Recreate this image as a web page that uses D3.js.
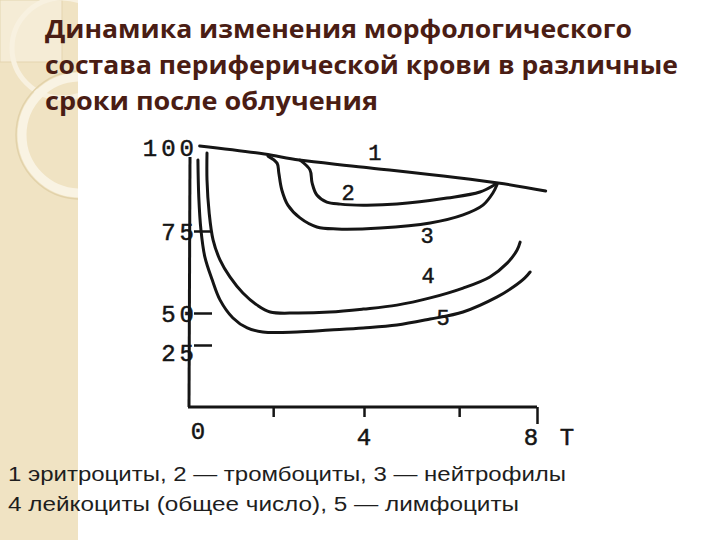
<!DOCTYPE html>
<html>
<head>
<meta charset="utf-8">
<script src="https://d3js.org/d3.v7.min.js"></script>
<style>
    body { margin: 0; padding: 0; background: #fff; }
    svg { display: block; }
</style>
</head>
<body>
<svg id="chart" width="720" height="540"></svg>
<script>
// ---- data (time T, percent of initial level) ----
const erythrocytes = [[0.2,100.3],[1.7,97.9],[2.5,96.1],[4.0,94.0],[7.1,89.3],[8.2,86.9]];
const thrombocytes = [[2.52,96.1],[2.75,93.2],[2.8,89.3],[2.91,85.7],[3.14,83.6],[3.45,83.0],[3.98,82.7],[4.76,83.0],[5.92,84.8],[6.68,86.6],[7.05,89.0]];
const neutrophils = [[1.78,97.3],[1.99,95.2],[2.03,92.3],[2.1,87.2],[2.24,82.7],[2.52,78.9],[2.91,76.2],[3.38,75.6],[4.37,75.9],[5.53,77.4],[6.29,79.8],[6.75,82.7],[6.98,86.3],[7.08,88.9]];
const leukocytes = [[0.37,98.2],[0.37,90.2],[0.42,80.4],[0.51,72.3],[0.67,66.2],[0.9,61.0],[1.2,56.1],[1.53,52.4],[1.83,50.3],[2.45,50.0],[3.21,50.3],[3.98,51.2],[4.76,52.4],[5.53,54.6],[6.29,57.6],[6.91,61.0],[7.31,65.2],[7.54,69.2],[7.61,71.6]];
const lymphocytes = [[0.16,96.1],[0.18,85.1],[0.23,75.3],[0.32,67.1],[0.49,60.1],[0.67,54.0],[0.97,46.1],[1.3,38.3],[1.66,35.2],[2.45,35.2],[3.21,36.7],[3.98,38.3],[4.76,40.6],[5.53,45.3],[6.29,50.3],[7.08,54.9],[7.45,57.9],[7.72,60.7],[7.84,62.5]];
const series = [erythrocytes, thrombocytes, neutrophils, leukocytes, lymphocytes];

const curveNames = ["1", "2", "3", "4", "5"];
const curveLabelT = [4.25, 3.63, 5.46, 5.48, 5.83];
const curveLabelV = [98.5, 86.6, 73.8, 61.6, 46.9];

const yTickValues = [25, 50, 75];
const yLabels = ["100", "75", "50", "25"];
const xTickMarks = [1.9, 4, 6.2, 8];
const xLabels = ["0", "4", "8"];

const titleLines = [
    "Динамика изменения морфологического",
    "состава периферической крови в различные",
    "сроки после облучения"
];
const legendLines = [
    "1 эритроциты, 2 — тромбоциты, 3 — нейтрофилы",
    "4 лейкоциты (общее число),  5 — лимфоциты"
];

const svg = d3.select("#chart");

// ---- slide background ----
const deco = svg.append("g");
deco.append("clipPath").attr("id", "strip")
    .append("rect").attr("x", 0).attr("y", 0).attr("width", 78).attr("height", 540);
deco.append("rect")
    .attr("x", 0).attr("y", 0).attr("width", 78).attr("height", 540)
    .attr("fill", "#f0e3c3");
deco.append("rect")
    .attr("x", 0).attr("y", 0).attr("width", 62).attr("height", 62)
    .attr("fill", "#f5ecd6").attr("stroke", "#e4d5b0").attr("stroke-width", 1)
    .attr("clip-path", "url(#strip)");
const rings = deco.append("g").attr("clip-path", "url(#strip)");
rings.append("circle").attr("cx", 62).attr("cy", 48).attr("r", 50)
    .attr("fill", "none").attr("stroke", "#f8f1e0").attr("stroke-width", 5);
rings.append("circle").attr("cx", 80).attr("cy", 135).attr("r", 58)
    .attr("fill", "none").attr("stroke", "#f9f3e3").attr("stroke-width", 9);
rings.append("circle").attr("cx", 80).attr("cy", 135).attr("r", 64)
    .attr("fill", "none").attr("stroke", "#e2d2aa").attr("stroke-width", 1.5);

// ---- title ----
const titleRight = [632, 678, 378];
svg.selectAll("text.title").data(titleLines)
    .join("text")
    .attr("class", "title")
    .attr("x", 45)
    .attr("y", (d, i) => 38 + i * 36)
    .attr("textLength", (d, i) => titleRight[i] - 45)
    .attr("lengthAdjust", "spacingAndGlyphs")
    .attr("font-family", "'Open Sans', 'Noto Sans', sans-serif")
    .attr("font-weight", "bold")
    .attr("font-size", 25)
    .attr("fill", "#4a1d14")
    .text(d => d);

// ---- legend ----
const legendRight = [566, 519];
svg.selectAll("text.legend").data(legendLines)
    .join("text")
    .attr("class", "legend")
    .attr("x", 8)
    .attr("y", (d, i) => 481 + i * 30)
    .attr("textLength", (d, i) => legendRight[i] - 8)
    .attr("lengthAdjust", "spacingAndGlyphs")
    .attr("font-family", "'Liberation Sans', Arial, sans-serif")
    .attr("font-size", 19.5)
    .attr("fill", "#1e1e1e")
    .text(d => d);

// ---- scales (hand drawn, so y is piecewise) ----
const x = d3.scaleLinear().domain([0, 8]).range([191, 537]);
const y = d3.scaleLinear().domain([0, 25, 50, 75, 100]).range([407, 345, 313, 231, 147]);

const ink = "#151515";
const plot = svg.append("g");

// axis lines
plot.append("line")
    .attr("x1", x(0) - 1).attr("x2", x(0) - 2)
    .attr("y1", y(97)).attr("y2", y(0))
    .attr("stroke", ink).attr("stroke-width", 3);

const xAxis = d3.axisBottom(x)
    .tickValues(xTickMarks)
    .tickSize(10)
    .tickSizeOuter(0)
    .tickFormat("");
const gx = plot.append("g")
    .attr("transform", `translate(0,${y(0)})`)
    .call(xAxis);
gx.select(".domain").attr("stroke", ink).attr("stroke-width", 3)
    .attr("d", `M${x(0) - 3},0H${x(8)}`);
gx.selectAll(".tick line").attr("stroke", ink).attr("stroke-width", 2.5)
    .attr("y2", d => d === 8 ? 17 : 10);

const yAxis = d3.axisRight(y)
    .tickValues(yTickValues)
    .tickSize(18)
    .tickSizeOuter(0)
    .tickFormat("");
const gy = plot.append("g")
    .attr("transform", `translate(${x(0) + 3},0)`)
    .call(yAxis);
gy.select(".domain").remove();
gy.selectAll(".tick line").attr("stroke", ink).attr("stroke-width", 2.5);

// tick labels
const mono = "'Liberation Mono', 'DejaVu Sans Mono', monospace";
plot.selectAll("text.ylab").data(yLabels)
    .join("text")
    .attr("class", "ylab")
    .attr("x", x(0) + 7)
    .attr("y", d => y(+d) + (d === "25" ? 7 : 0))
    .attr("dy", "0.36em")
    .attr("text-anchor", "end")
    .attr("font-family", mono)
    .attr("font-size", 24)
    .attr("letter-spacing", 4)
    .attr("fill", ink)
    .attr("stroke", ink)
    .attr("stroke-width", 0.5)
    .text(d => d);

plot.selectAll("text.xlab").data(xLabels)
    .join("text")
    .attr("class", "xlab")
    .attr("x", d => x(+d) + (d === "0" ? 7 : d === "8" ? -6 : 0))
    .attr("y", d => d === "0" ? 439 : 445)
    .attr("text-anchor", "middle")
    .attr("font-family", mono)
    .attr("font-size", 24)
    .attr("fill", ink)
    .attr("stroke", ink)
    .attr("stroke-width", 0.5)
    .text(d => d);

plot.append("text")
    .attr("x", 567).attr("y", 445)
    .attr("text-anchor", "middle")
    .attr("font-family", mono)
    .attr("font-size", 24)
    .attr("fill", ink)
    .attr("stroke", ink)
    .attr("stroke-width", 0.5)
    .text("T");

// ---- curves ----
const line = d3.line()
    .x(d => x(d[0]))
    .y(d => y(d[1]))
    .curve(d3.curveCatmullRom.alpha(0.5));

plot.selectAll("path.curve").data(series)
    .join("path")
    .attr("class", "curve")
    .attr("d", line)
    .attr("fill", "none")
    .attr("stroke", ink)
    .attr("stroke-width", 3)
    .attr("stroke-linecap", "round")
    .attr("stroke-linejoin", "round");

plot.selectAll("text.cname").data(curveNames)
    .join("text")
    .attr("class", "cname")
    .attr("x", (d, i) => x(curveLabelT[i]))
    .attr("y", (d, i) => y(curveLabelV[i]))
    .attr("dy", "0.36em")
    .attr("text-anchor", "middle")
    .attr("font-family", mono)
    .attr("font-size", 22)
    .attr("fill", ink)
    .attr("stroke", ink)
    .attr("stroke-width", 0.5)
    .text(d => d);
</script>
</body>
</html>
